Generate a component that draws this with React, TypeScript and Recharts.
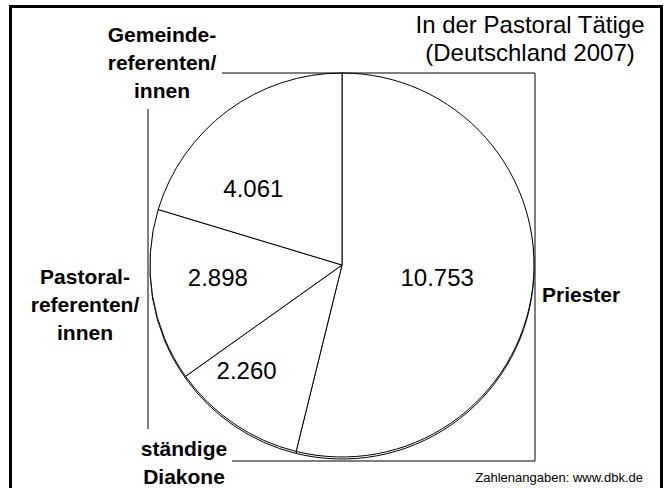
import { PieChart, Pie, Cell } from 'recharts'

// Werte in der Reihenfolge im Uhrzeigersinn ab 12 Uhr
const names = ['Priester', 'ständige Diakone', 'Pastoralreferenten/innen', 'Gemeindereferenten/innen']
const values = [10753, 2260, 2898, 4061]
const nameLines = [
  ['Priester'],
  ['ständige', 'Diakone'],
  ['Pastoral-', 'referenten/', 'innen'],
  ['Gemeinde-', 'referenten/', 'innen'],
]
const titleLines = ['In der Pastoral Tätige', '(Deutschland 2007)']
const source = 'Zahlenangaben: www.dbk.de'

const data = names.map((name, i) => ({ name, value: values[i] }))

const W = 666
const H = 488
const CX = 342
const CY = 265
const R = 192
const FONT = '"Liberation Sans", Arial, sans-serif'
const RAD = Math.PI / 180

// [Radius-Anteil, Winkelverschiebung] für die Zahlen im Segment
const valuePos = [[0.5, -0.6], [0.74, -8], [0.65, -3.6], [0.61, 12.6]]

const fmtDe = (v: number) => String(v).replace(/\B(?=(\d{3})+(?!\d))/g, '.')

function NameText({ x, y, lines, anchor = 'middle' }: { x: number; y: number; lines: string[]; anchor?: string }) {
  return (
    <text x={x} y={y} textAnchor={anchor as any} fontFamily={FONT} fontSize={21} fontWeight="bold" fill="#000">
      {lines.map((l, i) => (
        <tspan key={i} x={x} y={y + i * 28} dominantBaseline="central">{l}</tspan>
      ))}
    </text>
  )
}

function renderLabel(p: any) {
  const { cx, cy, outerRadius: r, midAngle, index, value } = p
  const [f, da] = valuePos[index]
  const a = (midAngle + da) * RAD
  const vx = cx + r * f * Math.cos(a)
  const vy = cy - r * f * Math.sin(a)
  const right = cx + r + 1
  let outer = null
  if (index === 0) {
    outer = (
      <g>
        <line x1={right} y1={cy - r} x2={right} y2={cy + r + 4} stroke="#000" strokeWidth={1} />
        <NameText x={cx + r + 8} y={cy + 29} lines={nameLines[0]} anchor="start" />
      </g>
    )
  } else if (index === 1) {
    outer = (
      <g>
        <line x1={cx - 110} y1={cy + r + 4} x2={right} y2={cy + r + 4} stroke="#000" strokeWidth={1} />
        <NameText x={cx - 158} y={cy + 183.5} lines={nameLines[1]} />
      </g>
    )
  } else if (index === 2) {
    outer = (
      <g>
        <line x1={cx - r - 2} y1={cy - 156} x2={cx - r - 2} y2={cy + 164} stroke="#000" strokeWidth={1} />
        <NameText x={cx - 257} y={cy + 11.5} lines={nameLines[2]} />
      </g>
    )
  } else {
    outer = (
      <g>
        <line x1={cx - 120} y1={cy - r} x2={right} y2={cy - r} stroke="#000" strokeWidth={1} />
        <NameText x={cx - 180} y={cy - 230.5} lines={nameLines[3]} />
      </g>
    )
  }
  return (
    <g key={`lbl-${index}`}>
      {outer}
      <text x={vx} y={vy} textAnchor="middle" dominantBaseline="central" fontFamily={FONT} fontSize={24} fill="#000">
        {fmtDe(value)}
      </text>
    </g>
  )
}

export default function App() {
  return (
    <div style={{ position: 'relative', width: W, height: H, background: '#fff', overflow: 'hidden' }}>
      <style>{'body{margin:0}'}</style>
      <PieChart width={W} height={H} margin={{ top: 0, right: 0, bottom: 0, left: 0 }}>
        {/* leicht versetzter Schatten für den Doppelrand */}
        <Pie
          data={data}
          dataKey="value"
          cx={CX}
          cy={CY + 2}
          outerRadius={R}
          startAngle={90}
          endAngle={-270}
          stroke="#000"
          strokeWidth={1}
          fill="#fff"
          isAnimationActive={false}
        />
        <Pie
          data={data}
          dataKey="value"
          cx={CX}
          cy={CY}
          outerRadius={R}
          startAngle={90}
          endAngle={-270}
          stroke="#000"
          strokeWidth={1}
          label={renderLabel}
          labelLine={false}
          isAnimationActive={false}
        >
          {data.map((d, i) => <Cell key={i} fill="#fff" />)}
        </Pie>
      </PieChart>
      <svg width={W} height={H} style={{ position: 'absolute', left: 0, top: 0, pointerEvents: 'none' }}>
        <path d={`M10.5 ${H} V6.5 H661.5 V${H}`} fill="none" stroke="#000" strokeWidth={3} />
        <text x={530} y={24} textAnchor="middle" fontFamily={FONT} fontSize={24} fill="#000">
          {titleLines.map((l, i) => (
            <tspan key={i} x={530} y={24 + i * 28} dominantBaseline="central">{l}</tspan>
          ))}
        </text>
        <text x={643} y={477} textAnchor="end" dominantBaseline="central" fontFamily={FONT} fontSize={13} fill="#000">
          {source}
        </text>
      </svg>
    </div>
  )
}
